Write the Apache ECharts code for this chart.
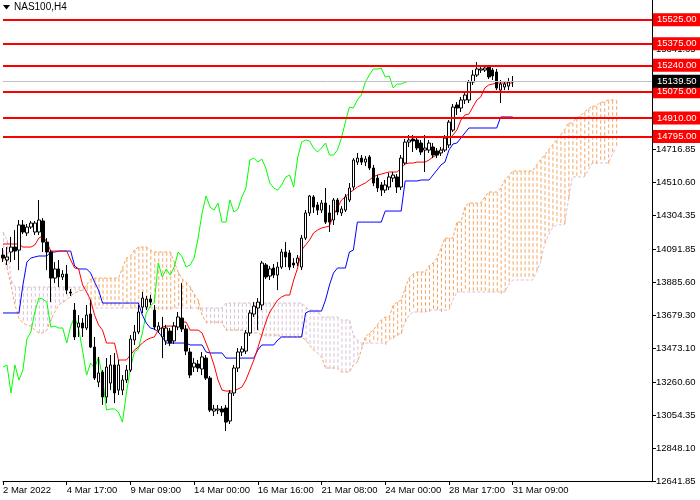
<!DOCTYPE html>
<html>
<head>
<meta charset="utf-8">
<script src="https://cdn.jsdelivr.net/npm/echarts@6/dist/echarts.min.js"></script>
<style>
  html, body { margin: 0; padding: 0; background: #fff; }
  #chart { width: 700px; height: 500px; }
</style>
</head>
<body>
<div id="chart"></div>
<script>
// NAS100 H4 with Ichimoku
var symbolTitle = 'NAS100,H4';
var slotCount = 164;
var labelStep = 16;
var tickLabels = ['2 Mar 2022', '4 Mar 17:00', '9 Mar 09:00', '14 Mar 00:00', '16 Mar 16:00',
  '21 Mar 08:00', '24 Mar 00:00', '28 Mar 17:00', '31 Mar 09:00'];
var yTicks = [12641.85, 12848.10, 13054.35, 13260.60, 13473.10, 13679.30, 13885.60, 14091.85,
  14304.35, 14510.60, 14716.85, 14923.10, 15129.35, 15341.65];
var levels = [15525, 15375, 15240, 15075, 14910, 14795];
var lastPrice = 15139.5;
var chikouShift = 26;

var opens = [
  14054, 14023, 14073, 14104, 14085, 14242, 14192, 14229, 14198, 14198,
  14267, 14135, 14073, 13910, 13967, 13917, 13935, 13823, 13710, 13604,
  13629, 13598, 13685, 13479, 13260, 13323, 13167, 13254, 13367, 13210,
  13210, 13273, 13335, 13523, 13573, 13729, 13729, 13779, 13710, 13585,
  13542, 13517, 13579, 13517, 13604, 13660, 13592, 13448, 13354, 13373,
  13342, 13410, 13285, 13079, 13085, 13092, 13098, 13017, 13192, 13348,
  13448, 13454, 13567, 13685, 13723, 13742, 13992, 13923, 13973, 13929,
  13979, 14073, 14067, 14004, 14004, 13979, 14160, 14317, 14417, 14367,
  14335, 14379, 14317, 14273, 14398, 14317, 14335, 14398, 14479, 14635,
  14660, 14635, 14667, 14598, 14535, 14492, 14460, 14479, 14535, 14542,
  14479, 14629, 14760, 14779, 14773, 14754, 14710, 14710, 14729, 14704,
  14692, 14710, 14742, 14835, 14992, 14973, 15023, 15023, 15135, 15179,
  15210, 15210, 15229, 15210, 15198, 15085, 15104, 15110, 15135
];
var closes = [
  14035, 14042, 14104, 14079, 14242, 14198, 14229, 14254, 14254, 14273,
  14135, 14073, 13910, 13967, 13917, 13935, 13835, 13817, 13542, 13629,
  13598, 13679, 13479, 13285, 13317, 13167, 13354, 13367, 13192, 13367,
  13273, 13335, 13529, 13573, 13698, 13785, 13779, 13760, 13604, 13610,
  13598, 13598, 13504, 13610, 13667, 13592, 13454, 13304, 13379, 13348,
  13417, 13285, 13085, 13092, 13092, 13073, 13010, 13192, 13348, 13448,
  13467, 13567, 13692, 13735, 13760, 14004, 13917, 13967, 13929, 13979,
  14073, 14042, 13979, 13992, 14035, 14160, 14317, 14423, 14354, 14335,
  14379, 14260, 14260, 14398, 14323, 14342, 14417, 14473, 14648, 14660,
  14635, 14654, 14598, 14504, 14473, 14460, 14492, 14542, 14554, 14479,
  14660, 14760, 14773, 14767, 14723, 14698, 14723, 14754, 14679, 14679,
  14710, 14785, 14885, 14979, 14973, 15023, 15054, 15135, 15179, 15217,
  15217, 15223, 15167, 15173, 15098, 15123, 15123, 15135, 15139.5
];
var lows = [
  14010, 13992, 14010, 14023, 13960, 14185, 14173, 14217, 14179, 14179,
  14073, 13960, 13760, 13879, 13854, 13898, 13810, 13798, 13523, 13542,
  13542, 13585, 13473, 13273, 13229, 13117, 13129, 13210, 13129, 13179,
  13179, 13254, 13323, 13492, 13560, 13692, 13710, 13742, 13585, 13567,
  13410, 13492, 13485, 13498, 13585, 13573, 13429, 13285, 13323, 13323,
  13304, 13273, 13073, 13048, 13060, 13048, 12954, 12998, 13173, 13323,
  13423, 13435, 13548, 13667, 13585, 13710, 13904, 13898, 13910, 13835,
  13967, 13979, 13960, 13973, 13985, 13960, 14148, 14298, 14317, 14304,
  14317, 14248, 14198, 14242, 14304, 14298, 14323, 14385, 14460, 14617,
  14617, 14610, 14585, 14485, 14448, 14423, 14442, 14460, 14510, 14442,
  14460, 14617, 14729, 14698, 14710, 14679, 14573, 14692, 14660, 14660,
  14673, 14698, 14723, 14823, 14929, 14948, 14998, 15004, 15117, 15167,
  15192, 15198, 15154, 15148, 15085, 15004, 15085, 15085, 15104
];
var highs = [
  14098, 14104, 14167, 14210, 14273, 14273, 14248, 14267, 14267, 14398,
  14285, 14160, 14085, 14010, 14023, 13960, 13992, 13842, 13754, 13679,
  13660, 13742, 13773, 13542, 13417, 13335, 13410, 13429, 13442, 13398,
  13304, 13367, 13554, 13617, 13742, 13823, 13798, 13804, 13742, 13635,
  13667, 13617, 13598, 13635, 13698, 13879, 13617, 13473, 13410, 13398,
  13448, 13429, 13298, 13117, 13117, 13110, 13117, 13210, 13367, 13473,
  13485, 13585, 13710, 13760, 13785, 14017, 14004, 13985, 13998, 14010,
  14092, 14135, 14085, 14035, 14054, 14179, 14335, 14429, 14429, 14385,
  14398, 14473, 14367, 14410, 14410, 14360, 14435, 14504, 14660, 14692,
  14679, 14673, 14679, 14617, 14554, 14510, 14523, 14567, 14573, 14560,
  14679, 14779, 14804, 14804, 14798, 14773, 14804, 14773, 14754, 14723,
  14729, 14804, 14898, 14998, 15010, 15042, 15073, 15148, 15210, 15260,
  15235, 15242, 15242, 15223, 15217, 15148, 15142, 15160, 15173
];

// Tenkan-sen (red)
var tenkan = [
  14123, 14123, 14123, 14123, 14123, 14104, 14104, 14104, 14117, 14160,
  14173, 14135, 14079, 14079, 14079, 14079, 14079, 14023, 13973, 13967,
  13867, 13823, 13773, 13679, 13617, 13585, 13504, 13504, 13504, 13398,
  13398, 13398, 13429, 13460, 13479, 13504, 13523, 13535, 13542, 13585,
  13604, 13610, 13610, 13610, 13610, 13635, 13635, 13585, 13585, 13585,
  13567, 13504, 13442, 13367, 13273, 13210, 13204, 13204, 13204, 13217,
  13229, 13273, 13335, 13398, 13473, 13554, 13635, 13698, 13735, 13773,
  13792, 13804, 13804, 13898, 13973, 14085, 14117, 14148, 14192, 14210,
  14223, 14229, 14235, 14304, 14348, 14398, 14417, 14442, 14460, 14479,
  14492, 14504, 14523, 14542, 14554, 14560, 14567, 14573, 14573, 14573,
  14598, 14623, 14629, 14629, 14635, 14635, 14635, 14648, 14667, 14679,
  14698, 14742, 14773, 14804, 14835, 14898, 14929, 14935, 14979, 15023,
  15042, 15098, 15117, 15123, 15129, 15129, 15129, 15129, 15129
];
// Kijun-sen (blue)
var kijun = [
  13692, 13692, 13692, 13692, 13692, 13867, 14010, 14035, 14042, 14048,
  14048, 14048, 14073, 14073, 14079, 14079, 14079, 14079, 13985, 13967,
  13967, 13967, 13942, 13885, 13835, 13754, 13754, 13754, 13754, 13754,
  13754, 13754, 13754, 13754, 13754, 13679, 13629, 13598, 13592, 13573,
  13542, 13504, 13504, 13504, 13504, 13504, 13504, 13492, 13492, 13492,
  13492, 13448, 13442, 13442, 13442, 13442, 13410, 13410, 13410, 13410,
  13410, 13410, 13410, 13410, 13460, 13492, 13492, 13492, 13492, 13523,
  13542, 13542, 13542, 13542, 13542, 13542, 13692, 13704, 13704, 13704,
  13704, 13773, 13867, 13942, 13973, 13973, 13973, 14073, 14085, 14260,
  14260, 14260, 14260, 14260, 14260, 14260, 14329, 14329, 14329, 14329,
  14329, 14517, 14517, 14517, 14517, 14523, 14523, 14523, 14554, 14585,
  14617, 14635, 14710, 14748, 14754, 14785, 14817, 14848, 14848, 14848,
  14848, 14848, 14848, 14848, 14848, 14917, 14917, 14917, 14917
];
// Senkou Span A (sandy brown) and Span B (thistle), already shifted forward
var spanA = [
  14035, 13973, 13867, 13742, 13660, 13629, 13617, 13610, 13585, 13567,
  13567, 13585, 13648, 13698, 13742, 13760, 13773, 13798, 13817, 13829,
  13835, 13867, 13904, 13910, 13910, 13910, 13910, 13910, 13910, 13910,
  13973, 14035, 14048, 14085, 14104, 14104, 14104, 14085, 14073, 14073,
  14073, 14073, 14073, 14010, 13948, 13904, 13885, 13854, 13810, 13773,
  13679, 13635, 13635, 13635, 13635, 13635, 13585, 13585, 13585, 13585,
  13585, 13567, 13567, 13567, 13567, 13554, 13554, 13554, 13554, 13554,
  13542, 13542, 13542, 13542, 13542, 13542, 13523, 13492, 13460, 13442,
  13417, 13348, 13348, 13348, 13348, 13323, 13323, 13323, 13367, 13385,
  13460, 13542, 13567, 13585, 13617, 13648, 13667, 13667, 13742, 13760,
  13773, 13848, 13910, 13935, 13948, 13948, 13948, 13985, 14004, 14035,
  14098, 14160, 14160, 14160, 14260, 14260, 14354, 14379, 14379, 14379,
  14379, 14417, 14448, 14448, 14448, 14473, 14523, 14548, 14579, 14579,
  14579, 14579, 14579, 14579, 14617, 14648, 14679, 14710, 14742, 14773,
  14804, 14835, 14879, 14879, 14910, 14923, 14948, 14967, 14985, 14985,
  15010, 15010, 15023, 15023, 15023
];
var spanB = [
  14198, 14148, 13898, 13854, 13854, 13854, 13854, 13854, 13854, 13854,
  13854, 13854, 13854, 13854, 13854, 13854, 13854, 13854, 13854, 13854,
  13854, 13854, 13723, 13723, 13723, 13723, 13723, 13723, 13723, 13723,
  13723, 13723, 13723, 13723, 13723, 13723, 13723, 13723, 13723, 13723,
  13723, 13723, 13723, 13723, 13723, 13723, 13723, 13723, 13723, 13723,
  13723, 13723, 13723, 13723, 13723, 13723, 13754, 13754, 13754, 13754,
  13754, 13754, 13754, 13754, 13754, 13754, 13754, 13754, 13754, 13754,
  13754, 13754, 13754, 13754, 13754, 13754, 13729, 13710, 13710, 13710,
  13667, 13667, 13667, 13667, 13667, 13648, 13648, 13648, 13554, 13523,
  13504, 13504, 13504, 13504, 13504, 13504, 13504, 13523, 13542, 13554,
  13567, 13635, 13679, 13698, 13698, 13698, 13698, 13710, 13710, 13710,
  13710, 13710, 13710, 13773, 13823, 13823, 13823, 13823, 13823, 13823,
  13823, 13823, 13823, 13823, 13823, 13823, 13823, 13867, 13898, 13898,
  13898, 13898, 13898, 13898, 13948, 14010, 14117, 14179, 14223, 14242,
  14242, 14242, 14398, 14542, 14542, 14542, 14542, 14585, 14629, 14629,
  14629, 14629, 14629, 14679, 14723
];

// Chikou span is the close drawn 26 bars back
var chikou = closes.slice(chikouShift);

var orange = '#f4a460';
var thistle = '#d8bfd8';
var fontFam = 'Liberation Sans, Arial, sans-serif';
var hatchStep = 37.5;   // price gap between hatch dashes (about 6 px)

var categories = [];
for (var s = 0; s < slotCount; s++) categories.push(String(s));

var candleData = [];
for (var i = 0; i < opens.length; i++) {
  candleData.push([opens[i], closes[i], lows[i], highs[i]]);
}

// hatch dashes of the cloud, split by which span is on top
var hatchUp = [], hatchDown = [];
for (var j = 0; j < spanA.length; j++) {
  var hiSpan = Math.max(spanA[j], spanB[j]);
  var loSpan = Math.min(spanA[j], spanB[j]);
  var bucket = spanA[j] >= spanB[j] ? hatchUp : hatchDown;
  for (var p = hiSpan - 12; p > loSpan; p -= hatchStep) bucket.push([j, p]);
}

function showTick(idx) {
  return idx % labelStep === 0 && idx / labelStep < tickLabels.length;
}

var levelLines = levels.map(function (v) {
  return {
    yAxis: v,
    lineStyle: { color: '#ff0000', width: 2, type: 'solid' },
    label: { formatter: v.toFixed(2), backgroundColor: '#ff0000', color: '#ffffff' }
  };
});
levelLines.push({
  yAxis: lastPrice,
  lineStyle: { color: '#c0c0c0', width: 1, type: 'solid' },
  label: { formatter: lastPrice.toFixed(2), backgroundColor: '#000000', color: '#ffffff' }
});

var chart = echarts.init(document.getElementById('chart'));
var option = {
  animation: false,
  backgroundColor: '#ffffff',
  grid: { left: 0, right: 48, top: 0, bottom: 19, containLabel: false },
  xAxis: {
    type: 'category',
    data: categories,
    boundaryGap: false,
    axisLine: { lineStyle: { color: '#000', width: 1 } },
    axisTick: { interval: showTick, length: 4, lineStyle: { color: '#000' } },
    axisLabel: {
      interval: showTick,
      formatter: function (val, idx) { return tickLabels[idx / labelStep]; },
      align: 'left',
      margin: 4,
      color: '#000',
      fontSize: 9.5,
      fontFamily: fontFam
    },
    splitLine: { show: false }
  },
  yAxis: {
    type: 'value',
    position: 'right',
    min: 12641.85,
    max: 15648,
    axisLine: { show: true, lineStyle: { color: '#000', width: 1 } },
    axisTick: { show: true, customValues: yTicks, length: 4, lineStyle: { color: '#000' } },
    axisLabel: {
      customValues: yTicks,
      formatter: function (v) { return v.toFixed(2); },
      margin: 4,
      color: '#000',
      fontSize: 9.5,
      fontFamily: fontFam
    },
    splitLine: { show: false }
  },
  series: [
    {
      name: 'cloud up', type: 'scatter', z: 1, silent: true,
      data: hatchUp, symbol: 'rect', symbolSize: [1, 3.5], symbolOffset: [0.5, 0],
      itemStyle: { color: orange, opacity: 1 }
    },
    {
      name: 'cloud down', type: 'scatter', z: 1, silent: true,
      data: hatchDown, symbol: 'rect', symbolSize: [1, 3.5], symbolOffset: [0.5, 0],
      itemStyle: { color: thistle, opacity: 1 }
    },
    {
      name: 'Span A', type: 'line', z: 1, data: spanA, showSymbol: false,
      lineStyle: { color: orange, width: 1, type: [3, 2] }
    },
    {
      name: 'Span B', type: 'line', z: 1, data: spanB, showSymbol: false,
      lineStyle: { color: thistle, width: 1, type: [3, 2] }
    },
    {
      name: 'Chikou', type: 'line', z: 2, data: chikou, showSymbol: false,
      lineStyle: { color: '#00ff00', width: 1 }
    },
    {
      name: 'Kijun', type: 'line', z: 2, data: kijun, showSymbol: false,
      lineStyle: { color: '#0000ff', width: 1 }
    },
    {
      name: 'Tenkan', type: 'line', z: 2, data: tenkan, showSymbol: false,
      lineStyle: { color: '#ff0000', width: 1 }
    },
    {
      name: 'NAS100', type: 'candlestick', z: 3, data: candleData, barWidth: 3,
      itemStyle: {
        color: '#ffffff', color0: '#000000',
        borderColor: '#000000', borderColor0: '#000000', borderColorDoji: '#000000',
        borderWidth: 1
      }
    },
    {
      name: 'levels', type: 'line', z: 5, data: [], clip: false,
      markLine: {
        silent: true,
        symbol: 'none',
        animation: false,
        label: {
          position: 'end',
          distance: 1,
          fontSize: 9.5,
          fontFamily: fontFam,
          padding: [2, 4, 1, 4]
        },
        data: levelLines
      }
    }
  ],
  graphic: [
    {
      type: 'polygon',
      shape: { points: [[3, 5], [10, 5], [6.5, 9.5]] },
      style: { fill: '#000' }
    },
    {
      type: 'text',
      left: 14,
      top: 2,
      style: { text: symbolTitle, fill: '#000', fontSize: 10, fontFamily: fontFam }
    }
  ]
};
chart.setOption(option);
</script>
</body>
</html>
